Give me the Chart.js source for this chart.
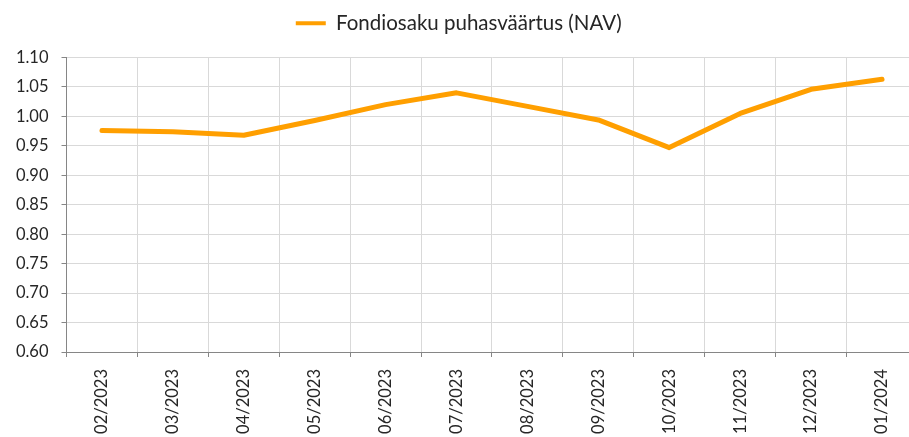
<!DOCTYPE html>
<html>
<head>
<meta charset="utf-8">
<script src="https://cdn.jsdelivr.net/npm/chart.js@4.4.1/dist/chart.umd.min.js"></script>
<style>
  html, body { margin: 0; padding: 0; background: #fff; overflow: hidden; }
  #wrap { width: 920px; height: 437px; }
</style>
</head>
<body>
<div id="wrap"><canvas id="navChart" width="920" height="437"></canvas></div>
<script>
    // Month labels and NAV per unit
    const months = ['02/2023', '03/2023', '04/2023', '05/2023', '06/2023', '07/2023',
                    '08/2023', '09/2023', '10/2023', '11/2023', '12/2023', '01/2024'];
    const navValues = [0.976, 0.974, 0.968, 0.993, 1.020, 1.040,
                       1.017, 0.994, 0.947, 1.005, 1.046, 1.063];
    const seriesName = 'Fondiosaku puhasväärtus (NAV)';
    const orange = '#FF9F00';

    const ctx = document.getElementById('navChart').getContext('2d');

    // Extra space under the legend
    const legendGap = {
        id: 'legendGap',
        beforeInit(chart) {
            const fit = chart.legend.fit;
            chart.legend.fit = function () {
                fit.call(this);
                this.height += 14;
            };
        }
    };

    new Chart(ctx, {
        type: 'line',
        data: {
            labels: months,
            datasets: [{
                label: seriesName,
                data: navValues,
                borderColor: orange,
                backgroundColor: orange,
                borderWidth: 5,
                borderCapStyle: 'round',
                borderJoinStyle: 'round',
                pointRadius: 0,
                tension: 0
            }]
        },
        plugins: [legendGap],
        options: {
            responsive: false,
            animation: false,
            layout: { padding: { left: 0, right: 2.5, top: 0, bottom: 0 } },
            plugins: {
                legend: {
                    position: 'top',
                    labels: {
                        boxWidth: 30,
                        boxHeight: 4,
                        padding: 13,
                        color: '#262626',
                        font: { family: 'Lato', size: 20.5 },
                        generateLabels: chart => Chart.defaults.plugins.legend.labels
                            .generateLabels(chart).map(l => ({ ...l, lineWidth: 0 }))
                    }
                },
                tooltip: { enabled: false }
            },
            scales: {
                x: {
                    offset: true,
                    grid: { color: '#d9d9d9', lineWidth: 1, offset: true, tickLength: 5, tickColor: '#868686' },
                    border: { color: '#868686' },
                    ticks: {
                        maxRotation: 90, minRotation: 90,
                        color: '#262626',
                        font: { family: 'Lato', size: 16.5 },
                        padding: 12
                    },
                    afterFit: s => { s.height = 85; }
                },
                y: {
                    min: 0.6,
                    max: 1.1,
                    grid: { color: '#d9d9d9', lineWidth: 1, tickLength: 5, tickColor: '#868686' },
                    border: { color: '#868686' },
                    ticks: {
                        stepSize: 0.05,
                        color: '#262626',
                        font: { family: 'Lato', size: 16.5 },
                        padding: 13,
                        callback: v => v.toFixed(2)
                    },
                    afterFit: s => { s.width = 66.5; }
                }
            }
        }
    });
</script>
</body>
</html>
